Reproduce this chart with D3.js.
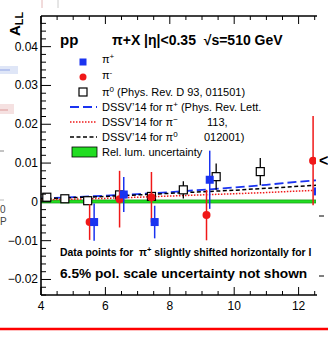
<!DOCTYPE html>
<html>
<head>
<meta charset="utf-8">
<script src="https://cdn.jsdelivr.net/npm/d3@7"></script>
<style>
  body { margin: 0; background: #fff; }
  text { font-family: "Liberation Sans", Arial, sans-serif; }
</style>
</head>
<body>
<svg id="chart"></svg>
<script>
// pT values and A_LL
const pi0X   = [4.18, 4.74, 5.45, 6.44, 7.43, 8.42, 9.44, 10.81]
const pi0Y   = [0.0012, 0.0008, 0.0003, 0.0018, 0.0014, 0.0031, 0.0065, 0.0078]
const pi0Err = [0.0004, 0.0003, 0.0005, 0.0008, 0.0012, 0.0022, 0.0034, 0.0035]

const piPlusX   = [5.65, 6.57, 7.53, 9.24, 12.6]
const piPlusY   = [-0.0052, 0.0019, -0.0052, 0.0057, 0.0027]
const piPlusErr = [0.0048, 0.0045, 0.0042, 0.0075, 0.011]

const piMinusX   = [5.51, 6.44, 7.43, 9.14, 12.45]
const piMinusY   = [-0.0052, 0.0007, 0.0012, -0.0034, 0.0106]
const piMinusErr = [0.0046, 0.0073, 0.0065, 0.0065, 0.0115]

// DSSV'14 curves
const theoryX   = [4, 5, 6, 7, 8, 9, 10, 11, 12, 12.6]
const dssvPlus  = [0.0009, 0.0012, 0.0016, 0.0020, 0.0025, 0.0031, 0.0037, 0.0044, 0.0052, 0.0056]
const dssvZero  = [0.0008, 0.0011, 0.0014, 0.0018, 0.0022, 0.0026, 0.0030, 0.0035, 0.0040, 0.0043]
const dssvMinus = [0.0005, 0.0007, 0.0009, 0.0012, 0.0015, 0.0018, 0.0021, 0.0024, 0.0028, 0.0030]

const lumBand = [-0.0003, 0.0005]

const xTicks = [4, 6, 8, 10, 12]
const yTicks = [-0.02, -0.01, 0, 0.01, 0.02, 0.03, 0.04]

const width = 328
const height = 340
const fLeft = 41, fRight = 316, fTop = 16, fBottom = 295

const blue = '#1a33f0'
const red = '#f01818'

const svg = d3.select('#chart')
  .attr('width', width)
  .attr('height', height)

const x = d3.scaleLinear().domain([4, 4 + (fRight - fLeft) / 32.2]).range([fLeft, fRight])
const y = d3.scaleLinear().domain([-0.024, 0.0479]).range([fBottom, fTop])

svg.append('defs').append('clipPath').attr('id', 'frame')
  .append('rect').attr('x', fLeft).attr('y', fTop).attr('width', fRight - fLeft).attr('height', fBottom - fTop)

// bits of neighbouring panels that got cropped in
const stray = svg.append('g')
stray.append('rect').attr('x', 0).attr('y', 66).attr('width', 18).attr('height', 8).attr('fill', '#dfe6f7')
stray.append('line').attr('x1', 0).attr('x2', 10).attr('y1', 70).attr('y2', 70).attr('stroke', '#8fa3e6')
stray.append('rect').attr('x', 0).attr('y', 104).attr('width', 14).attr('height', 10).attr('fill', '#f5e1e1')
stray.append('line').attr('x1', 0).attr('x2', 8).attr('y1', 110).attr('y2', 110).attr('stroke', '#d99')
stray.append('line').attr('x1', 0).attr('x2', 4).attr('y1', 151).attr('y2', 151).attr('stroke', '#888')
stray.append('line').attr('x1', 0).attr('x2', 4).attr('y1', 200).attr('y2', 200).attr('stroke', '#bbb')
stray.append('text').attr('x', 0).attr('y', 213).attr('font-size', 10).attr('fill', '#444').text('0')
stray.append('text').attr('x', 0).attr('y', 225).attr('font-size', 10).attr('fill', '#444').text('P')
stray.append('line').attr('x1', 42).attr('x2', 42).attr('y1', 0).attr('y2', 8).attr('stroke', '#e4b8b8')
stray.append('line').attr('x1', 58).attr('x2', 58).attr('y1', 0).attr('y2', 8).attr('stroke', '#ccc')
stray.append('text').attr('x', 319).attr('y', 166).attr('font-size', 16).attr('font-weight', 'bold').text('<')
stray.append('line').attr('x1', 319).attr('x2', 324).attr('y1', 216).attr('y2', 216).attr('stroke', '#000')
stray.append('line').attr('x1', 319).attr('x2', 324).attr('y1', 276).attr('y2', 276).attr('stroke', '#000')
stray.append('line').attr('x1', 0).attr('x2', width).attr('y1', 329).attr('y2', 329)
  .attr('stroke', '#ff0000').attr('stroke-width', 2.5)

const plot = svg.append('g').attr('clip-path', 'url(#frame)')

// rel. lum. band
plot.append('rect')
  .attr('x', fLeft).attr('width', fRight - fLeft)
  .attr('y', y(lumBand[1])).attr('height', y(lumBand[0]) - y(lumBand[1]))
  .attr('fill', '#22dd22').attr('stroke', '#118811').attr('stroke-width', 0.6)

const line = d3.line().x(d => x(d[0])).y(d => y(d[1]))
const curves = [
  { vals: dssvPlus, color: blue, dash: '9,4', w: 1.8 },
  { vals: dssvZero, color: '#000', dash: '4,2.5', w: 1.5 },
  { vals: dssvMinus, color: red, dash: '1.5,1.5', w: 1.5 }
]
curves.forEach(c => {
  plot.append('path')
    .datum(theoryX.map((v, i) => [v, c.vals[i]]))
    .attr('d', line)
    .attr('fill', 'none')
    .attr('stroke', c.color)
    .attr('stroke-width', c.w)
    .attr('stroke-dasharray', c.dash)
})

function errBars(xs, ys, es, color, w) {
  plot.append('g').selectAll('line')
    .data(xs.map((v, i) => [v, ys[i], es[i]]))
    .enter().append('line')
      .attr('x1', d => x(d[0])).attr('x2', d => x(d[0]))
      .attr('y1', d => y(d[1] - d[2])).attr('y2', d => y(d[1] + d[2]))
      .attr('stroke', color).attr('stroke-width', w)
}

// pi0 open squares
errBars(pi0X, pi0Y, pi0Err, '#000', 1.3)
plot.append('g').selectAll('rect')
  .data(pi0X.map((v, i) => [v, pi0Y[i]]))
  .enter().append('rect')
    .attr('x', d => x(d[0]) - 4).attr('y', d => y(d[1]) - 4)
    .attr('width', 8).attr('height', 8)
    .attr('fill', '#fff').attr('stroke', '#000').attr('stroke-width', 1.2)

// pi-
errBars(piMinusX, piMinusY, piMinusErr, red, 1.5)
plot.append('g').selectAll('circle')
  .data(piMinusX.map((v, i) => [v, piMinusY[i]]))
  .enter().append('circle')
    .attr('cx', d => x(d[0])).attr('cy', d => y(d[1]))
    .attr('r', 4).attr('fill', red)

// pi+
errBars(piPlusX, piPlusY, piPlusErr, blue, 1.5)
plot.append('g').selectAll('rect.p')
  .data(piPlusX.map((v, i) => [v, piPlusY[i]]))
  .enter().append('rect')
    .attr('x', d => x(d[0]) - 4).attr('y', d => y(d[1]) - 4)
    .attr('width', 8).attr('height', 8)
    .attr('fill', blue)

// axes with inward ticks
const axes = svg.append('g').attr('stroke', '#000')
axes.append('line').attr('x1', fLeft).attr('x2', fRight + 1).attr('y1', fBottom).attr('y2', fBottom).attr('stroke-width', 1.6)
axes.append('line').attr('x1', fLeft).attr('x2', fRight + 1).attr('y1', fTop).attr('y2', fTop).attr('stroke-width', 1.6)
axes.append('line').attr('x1', fLeft).attr('x2', fLeft).attr('y1', fTop).attr('y2', fBottom).attr('stroke-width', 1.6)

const xMinor = d3.range(4, 12.6, 0.5)
xMinor.forEach(v => {
  const major = xTicks.includes(v)
  const len = major ? 8 : 4
  axes.append('line').attr('x1', x(v)).attr('x2', x(v)).attr('y1', fBottom).attr('y2', fBottom - len).attr('stroke-width', 1)
  axes.append('line').attr('x1', x(v)).attr('x2', x(v)).attr('y1', fTop).attr('y2', fTop + len).attr('stroke-width', 1)
})
const yMinor = d3.range(-0.024, 0.0479, 0.002).map(v => Math.round(v * 1000) / 1000)
yMinor.forEach(v => {
  const major = yTicks.includes(v)
  const len = major ? 10 : 5
  axes.append('line').attr('x1', fLeft).attr('x2', fLeft + len).attr('y1', y(v)).attr('y2', y(v)).attr('stroke-width', 1)
})

svg.append('g').selectAll('text')
  .data(xTicks).enter().append('text')
    .attr('x', d => x(d)).attr('y', fBottom + 15)
    .attr('text-anchor', 'middle').attr('font-size', 12)
    .text(d => d)

svg.append('g').selectAll('text')
  .data(yTicks).enter().append('text')
    .attr('x', fLeft - 3).attr('y', d => y(d) + 4)
    .attr('text-anchor', 'end').attr('font-size', 12)
    .text(d => d === 0 ? '0' : (d < 0 ? '\u2212' : '') + Math.abs(d).toFixed(2))

const yLab = svg.append('text')
  .attr('transform', 'translate(20,36) rotate(-90)')
  .attr('font-size', 15).attr('font-weight', 'bold')
yLab.append('tspan').text('A')
yLab.append('tspan').attr('font-size', 11).attr('dy', 3).text('LL')

// titles
svg.append('text').attr('x', 60).attr('y', 45).attr('font-size', 15).attr('font-weight', 'bold').text('pp')
svg.append('text').attr('x', 112).attr('y', 45).attr('font-size', 14).attr('font-weight', 'bold')
  .text('\u03c0+X |\u03b7|<0.35\u00a0 \u221as=510 GeV')

// legend
const leg = svg.append('g')
const lx = 83, tx = 102
leg.append('rect').attr('x', lx - 3.5).attr('y', 58.5).attr('width', 7).attr('height', 7).attr('fill', blue)
leg.append('circle').attr('cx', lx).attr('cy', 77).attr('r', 3.5).attr('fill', red)
leg.append('rect').attr('x', lx - 4).attr('y', 88).attr('width', 8).attr('height', 8).attr('fill', '#fff').attr('stroke', '#000').attr('stroke-width', 1.2)
leg.append('line').attr('x1', 70).attr('x2', 97).attr('y1', 107).attr('y2', 107).attr('stroke', blue).attr('stroke-width', 1.8).attr('stroke-dasharray', '9,4')
leg.append('line').attr('x1', 70).attr('x2', 97).attr('y1', 122).attr('y2', 122).attr('stroke', red).attr('stroke-width', 1.5).attr('stroke-dasharray', '1.5,1.5')
leg.append('line').attr('x1', 70).attr('x2', 97).attr('y1', 137).attr('y2', 137).attr('stroke', '#000').attr('stroke-width', 1.5).attr('stroke-dasharray', '4,2.5')
leg.append('rect').attr('x', 72).attr('y', 147).attr('width', 25).attr('height', 10).attr('fill', '#22dd22').attr('stroke', '#000').attr('stroke-width', 0.8)

function legText(yy, parts) {
  const t = leg.append('text').attr('x', tx).attr('y', yy).attr('font-size', 11)
  parts.forEach(p => {
    const s = t.append('tspan').text(p[0])
    if (p[1] === 'sup') s.attr('font-size', 8).attr('dy', -4)
    if (p[1] === 'back') s.attr('dy', 4)
    if (p[1] === 'x') s.attr('x', p[2]).attr('dy', 4)
  })
}
legText(63, [['\u03c0'], ['+', 'sup']])
legText(79, [['\u03c0'], ['-', 'sup']])
legText(96, [['\u03c0'], ['0', 'sup'], [' (Phys. Rev. D 93, 011501)', 'back']])
legText(111, [['DSSV\u201914 for \u03c0'], ['+', 'sup'], [' (Phys. Rev. Lett.', 'back']])
legText(126, [['DSSV\u201914 for \u03c0'], ['\u2212', 'sup'], ['113,', 'x', 207]])
legText(141, [['DSSV\u201914 for \u03c0'], ['0', 'sup'], ['012001)', 'x', 204]])
legText(156, [['Rel. lum. uncertainty']])

// notes (the reference cuts the first one off at "for l")
const note = svg.append('text')
  .attr('x', 60).attr('y', 256).attr('font-size', 10.4).attr('font-weight', 'bold')
note.append('tspan').text('Data points for\u00a0 \u03c0')
note.append('tspan').attr('font-size', 7.5).attr('dy', -4).text('+')
note.append('tspan').attr('dy', 4).text(' slightly shifted horizontally for l')
svg.append('text').attr('x', 60).attr('y', 278).attr('font-size', 13.7).attr('font-weight', 'bold')
  .text('6.5% pol. scale uncertainty not shown')
</script>
</body>
</html>
